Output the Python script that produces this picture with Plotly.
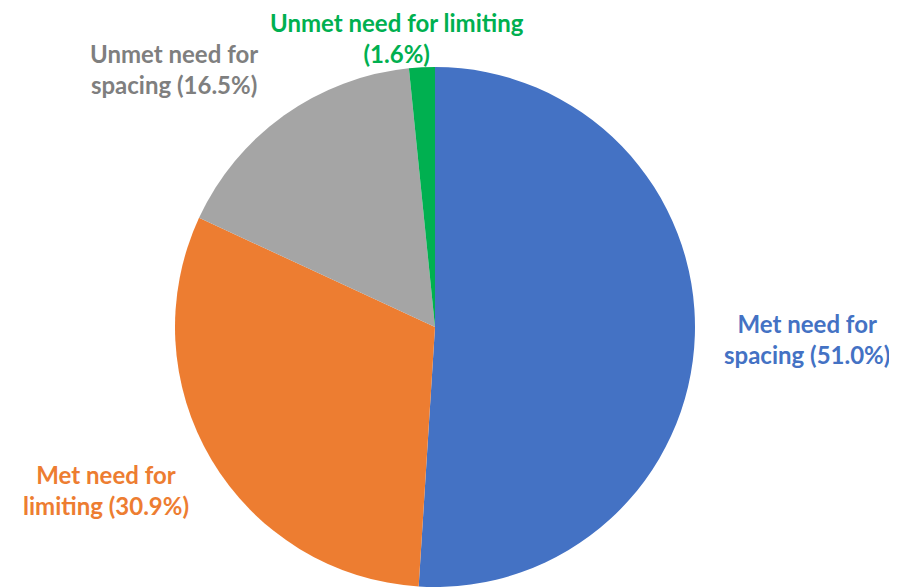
import plotly.graph_objects as go

categories = ["Met need for spacing", "Met need for limiting", "Unmet need for spacing", "Unmet need for limiting"]
values = [51.0, 30.9, 16.5, 1.6]
slice_colors = ["#4472C4", "#ED7D31", "#A5A5A5", "#00B050"]
label_colors = ["#4472C4", "#ED7D31", "#7F7F7F", "#00B050"]
label_texts = ["Met need for<br>spacing (51.0%)", "Met need for<br>limiting (30.9%)",
               "Unmet need for<br>spacing (16.5%)", "Unmet need for limiting<br>(1.6%)"]
# label centres in page pixels
label_pos = [(807, 339), (106, 490), (174, 69), (397, 38)]

W, H = 897, 588
OFF = 8  # default body margin of the page
fig = go.Figure(go.Pie(
    labels=categories, values=values, sort=False, direction="clockwise", rotation=0,
    marker=dict(colors=slice_colors, line=dict(color="white", width=0)),
    textinfo="none", hoverinfo="label+percent", showlegend=False,
    domain=dict(x=[(175 - OFF) / W, (695 - OFF) / W], y=[1 - (587 - OFF) / H, 1 - (67 - OFF) / H]),
))
for txt, col, (px, py) in zip(label_texts, label_colors, label_pos):
    fig.add_annotation(x=(px - OFF) / W, y=1 - (py - OFF) / H, xref="paper", yref="paper",
                       text="<b>" + txt + "</b>",
                       showarrow=False, font=dict(family="Lato", size=24, color=col),
                       xanchor="center", yanchor="middle", align="center")
fig.update_layout(width=W, height=H, margin=dict(l=0, r=0, t=0, b=0),
                  paper_bgcolor="white", plot_bgcolor="white")
fig.write_html("out.html")
